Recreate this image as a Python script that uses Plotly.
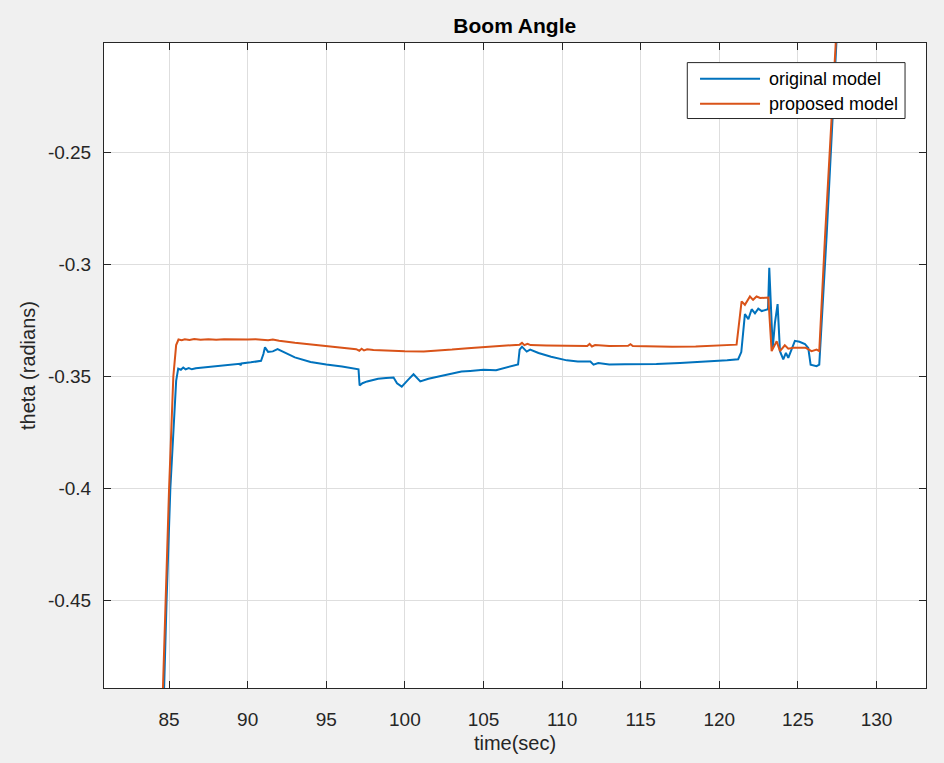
import plotly.graph_objects as go

# ---- data ----
t_original = [84.40, 84.68, 84.84, 85.08, 85.45, 85.58, 85.75, 85.90, 86.05, 86.25, 86.45, 86.70,
              87.20, 87.80, 88.40, 89.00, 89.50, 89.55, 89.60, 90.20, 90.85, 91.00, 91.10, 91.30,
              91.60, 91.90, 92.30, 93.00, 94.00, 95.00, 96.00, 96.60, 97.05, 97.12, 97.30, 97.60,
              97.90, 98.30, 98.80, 99.28, 99.50, 99.80, 100.20, 100.55, 100.98, 101.50, 102.00,
              102.50, 103.00, 103.60, 104.15, 105.00, 105.80, 106.50, 107.20, 107.30, 107.45,
              107.75, 107.97, 108.50, 109.30, 110.30, 111.00, 111.80, 112.00, 112.30, 113.00,
              114.00, 115.00, 116.00, 117.50, 119.00, 120.50, 121.20, 121.40, 121.63, 121.85,
              122.06, 122.27, 122.48, 122.70, 123.10, 123.18, 123.40, 123.54, 123.71, 123.86,
              124.07, 124.24, 124.39, 124.60, 124.81, 125.10, 125.45, 125.66, 125.81, 126.19,
              126.36, 126.83, 127.45, 128.00]
theta_original = [-0.560, -0.489, -0.450, -0.400, -0.352, -0.3465, -0.3470, -0.3460, -0.3468, -0.3462,
                  -0.3468, -0.3463, -0.3460, -0.3455, -0.3450, -0.3447, -0.3443, -0.3450, -0.3442,
                  -0.3437, -0.3430, -0.3400, -0.3370, -0.3390, -0.3388, -0.3378, -0.3392, -0.3415,
                  -0.3435, -0.3447, -0.3455, -0.3462, -0.3468, -0.3540, -0.3530, -0.3522, -0.3518,
                  -0.3510, -0.3507, -0.3505, -0.3530, -0.3545, -0.3515, -0.3490, -0.3522, -0.3510,
                  -0.3502, -0.3495, -0.3488, -0.3478, -0.3475, -0.3470, -0.3472, -0.3458, -0.3446,
                  -0.3380, -0.3367, -0.3389, -0.3380, -0.3395, -0.3412, -0.3428, -0.3433, -0.3433,
                  -0.3447, -0.3440, -0.3446, -0.3445, -0.3446, -0.3444, -0.3440, -0.3435, -0.3428,
                  -0.3423, -0.3391, -0.3222, -0.3244, -0.3200, -0.3218, -0.3197, -0.3208, -0.3200,
                  -0.3015, -0.3372, -0.3261, -0.3177, -0.3387, -0.3424, -0.3395, -0.3417, -0.3380,
                  -0.3341, -0.3345, -0.3355, -0.3373, -0.3447, -0.3454, -0.3447, -0.2870, -0.2010,
                  -0.125]

t_proposed = [84.30, 84.62, 84.77, 85.00, 85.27, 85.45, 85.60, 85.80, 86.00, 86.30, 86.60, 87.00,
              87.50, 88.00, 88.50, 89.00, 89.50, 90.00, 90.50, 91.00, 91.30, 91.60, 92.00, 93.00,
              94.00, 95.00, 96.00, 96.90, 97.10, 97.25, 97.40, 97.60, 98.00, 99.00, 100.00, 101.20,
              102.00, 103.00, 104.00, 105.00, 106.00, 107.00, 107.30, 107.45, 107.60, 107.80,
              108.00, 109.00, 110.00, 111.00, 111.60, 111.75, 111.90, 112.10, 113.00, 114.20,
              114.35, 114.50, 115.50, 117.00, 118.50, 120.00, 121.10, 121.42, 121.63, 121.95,
              122.15, 122.37, 122.60, 123.12, 123.33, 123.65, 123.86, 124.17, 124.39, 124.71,
              125.50, 125.87, 126.19, 126.36, 126.72, 127.41, 128.00]
theta_proposed = [-0.560, -0.489, -0.450, -0.400, -0.350, -0.3360, -0.3335, -0.3338, -0.3334, -0.3337,
                  -0.3333, -0.3336, -0.3334, -0.3336, -0.3334, -0.3335, -0.3334, -0.3335, -0.3334,
                  -0.3336, -0.3338, -0.3335, -0.3341, -0.3350, -0.3358, -0.3365, -0.3372, -0.3378,
                  -0.3385, -0.3376, -0.3384, -0.3379, -0.3382, -0.3385, -0.3387, -0.3388, -0.3385,
                  -0.3380, -0.3374, -0.3369, -0.3366, -0.3362, -0.3358, -0.3350, -0.3360, -0.3354,
                  -0.3360, -0.3362, -0.3363, -0.3365, -0.3364, -0.3355, -0.3366, -0.3360, -0.3364,
                  -0.3363, -0.3356, -0.3364, -0.3366, -0.3367, -0.3366, -0.3362, -0.3358, -0.3165,
                  -0.3180, -0.3143, -0.3158, -0.3143, -0.3150, -0.3148, -0.3387, -0.3343, -0.3387,
                  -0.3361, -0.3376, -0.3372, -0.3372, -0.3387, -0.3380, -0.3387, -0.2885, -0.2010,
                  -0.122]

x_tick_values = [85, 90, 95, 100, 105, 110, 115, 120, 125, 130]
x_tick_labels = ["85", "90", "95", "100", "105", "110", "115", "120", "125", "130"]
y_tick_values = [-0.45, -0.4, -0.35, -0.3, -0.25]
y_tick_labels = ["-0.45", "-0.4", "-0.35", "-0.3", "-0.25"]

series_names = ["original model", "proposed model"]
series_colors = ["#0072BD", "#D95319"]

# ---- figure ----
FONT = "Liberation Sans, Arial, Helvetica, sans-serif"
AX = "#262626"

fig = go.Figure()
fig.add_trace(go.Scatter(x=t_original, y=theta_original, mode="lines", name=series_names[0],
                         line=dict(color=series_colors[0], width=2)))
fig.add_trace(go.Scatter(x=t_proposed, y=theta_proposed, mode="lines", name=series_names[1],
                         line=dict(color=series_colors[1], width=2)))

# MATLAB-style legend box (paper coordinates of the plot area)
leg_x0, leg_x1, leg_y0, leg_y1 = 0.7096, 0.9745, 0.8829, 0.9696
row_y = [0.9445, 0.9060]
shapes = [dict(type="rect", xref="paper", yref="paper", x0=leg_x0, x1=leg_x1, y0=leg_y0, y1=leg_y1,
               fillcolor="white", line=dict(color=AX, width=1), layer="above")]
annotations = []
for name, color, ry in zip(series_names, series_colors, row_y):
    shapes.append(dict(type="line", xref="paper", yref="paper", x0=0.7251, x1=0.7981, y0=ry, y1=ry,
                       line=dict(color=color, width=2), layer="above"))
    annotations.append(dict(text=name, xref="paper", yref="paper", x=0.8066, y=ry,
                            xanchor="left", yanchor="middle", showarrow=False,
                            font=dict(size=18, color="black", family=FONT)))

fig.update_layout(
    width=944, height=763,
    margin=dict(l=104, r=18, t=43, b=71),
    paper_bgcolor="#f0f0f0",
    plot_bgcolor="white",
    font=dict(family=FONT, color=AX),
    title=dict(text="<b>Boom Angle</b>", x=0.5453, xanchor="center", y=1 - 26 / 763,
               yanchor="middle", font=dict(size=21, color="black", family=FONT)),
    showlegend=False,
    shapes=shapes,
    annotations=annotations,
)

fig.update_xaxes(
    range=[80.86, 133.15], tickmode="array", tickvals=x_tick_values, ticktext=x_tick_labels,
    ticks="inside", ticklen=7, tickcolor=AX, showline=True, linecolor=AX, linewidth=1,
    mirror="ticks", showgrid=True, gridcolor="#dedede", gridwidth=1, zeroline=False,
    tickfont=dict(size=19, color=AX), ticklabelstandoff=14,
    title=dict(text="time(sec)", font=dict(size=20, color=AX), standoff=7),
)
fig.update_yaxes(
    range=[-0.489, -0.2012], tickmode="array", tickvals=y_tick_values, ticktext=y_tick_labels,
    ticks="inside", ticklen=7, tickcolor=AX, showline=True, linecolor=AX, linewidth=1,
    mirror="ticks", showgrid=True, gridcolor="#dedede", gridwidth=1, zeroline=False,
    tickfont=dict(size=19, color=AX), ticklabelstandoff=8,
    title=dict(text="theta (radians)", font=dict(size=20, color=AX), standoff=6),
)

fig.write_html("out.html")
